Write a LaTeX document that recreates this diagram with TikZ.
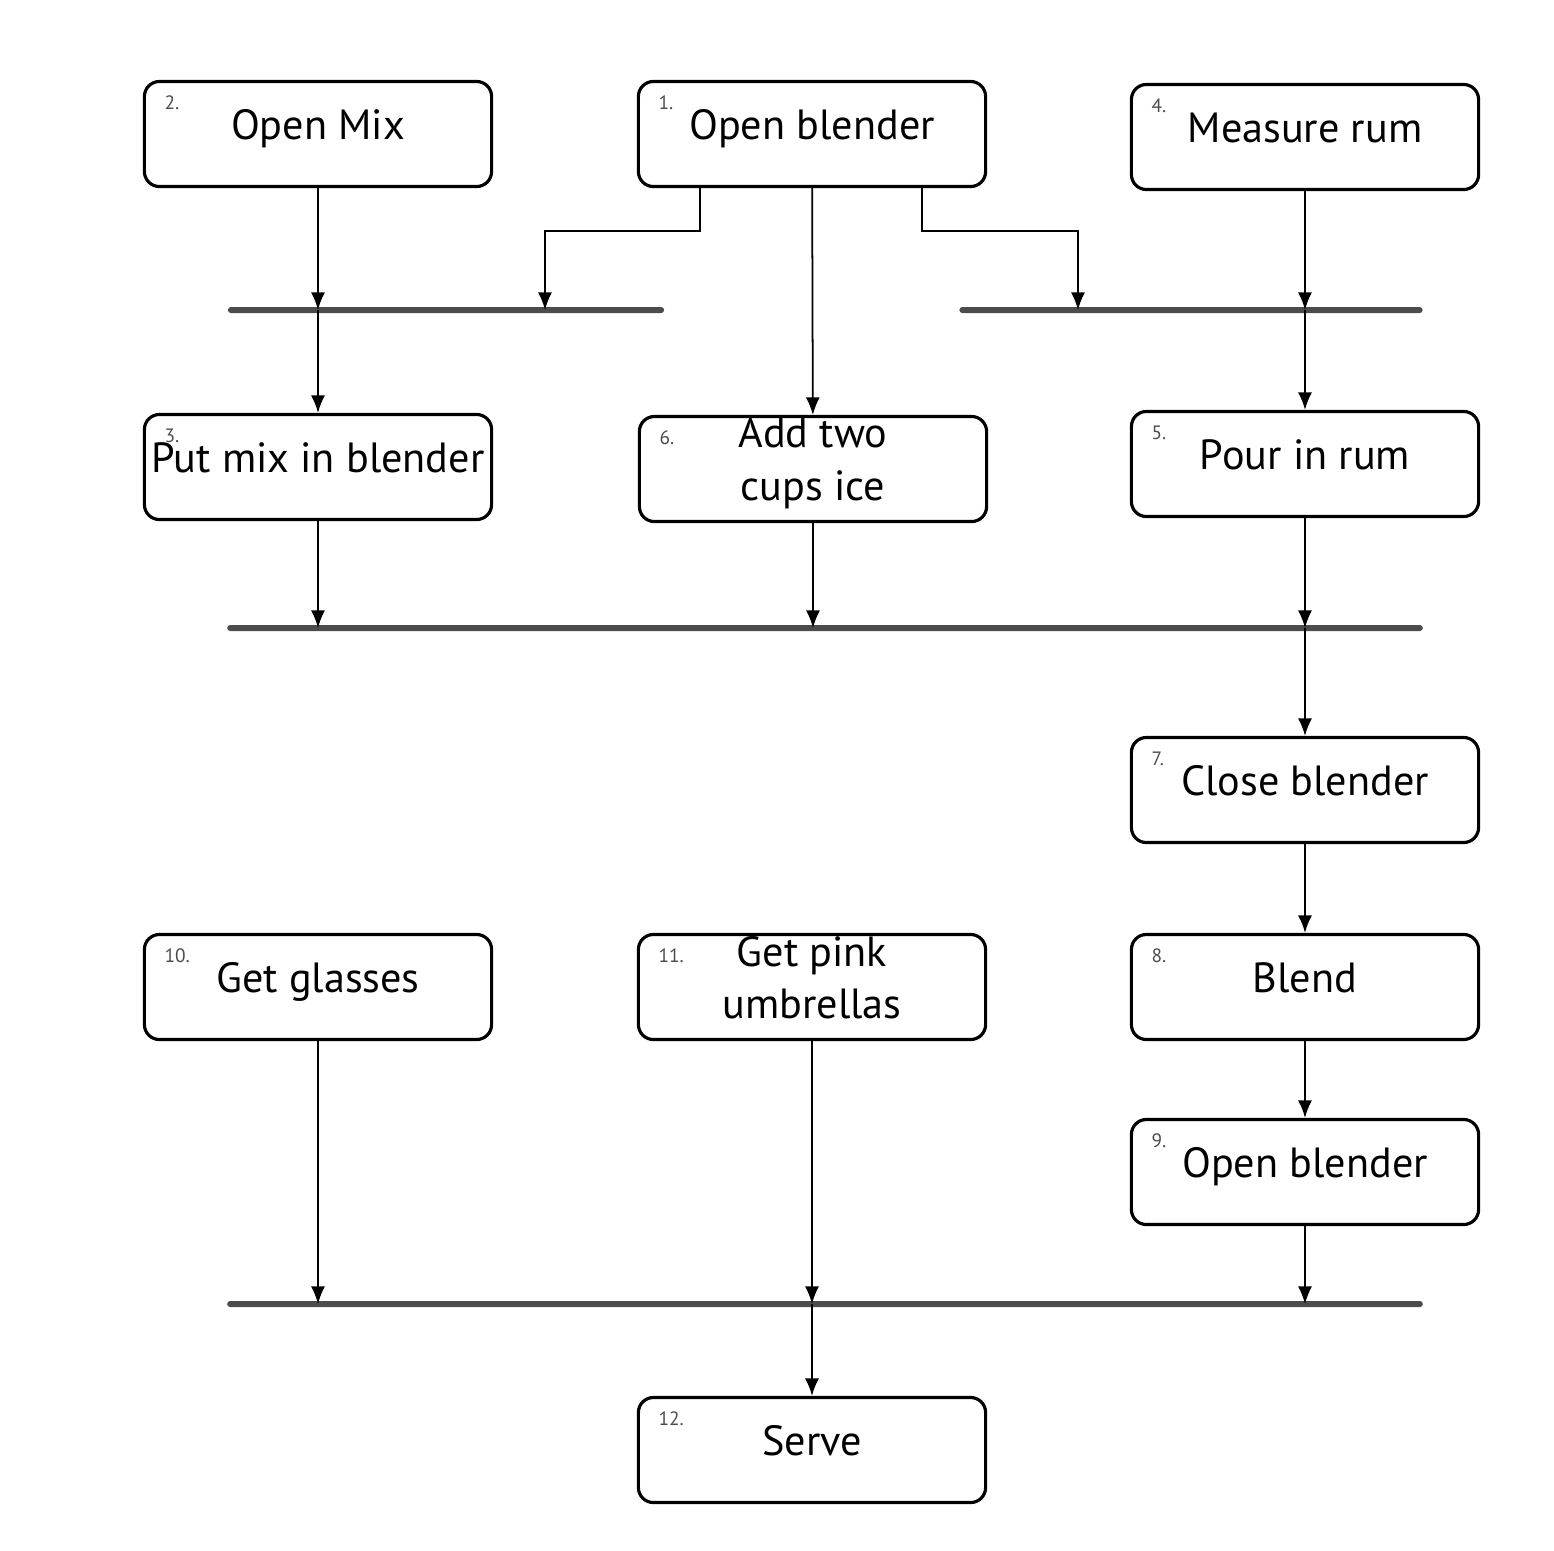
\documentclass[tikz,border=0pt]{standalone}
\usepackage{fontspec}
\setmainfont{PT Sans}
\usetikzlibrary{arrows.meta}

\begin{document}
\begin{tikzpicture}[x=0.01cm,y=-0.01cm,
			>={Latex[length=5pt,width=4pt]},
			act/.style={rectangle, draw, rounded corners=0.15cm, line width=0.9pt, minimum width=3.47cm, minimum height=1.05cm, inner xsep=1pt, inner ysep=0pt, text depth=5.5pt, font=\fontsize{12}{15}\selectfont, align=center},
			numlab/.style={anchor=west, font=\fontsize{5.5}{6}\selectfont, text=black!70, inner sep=0pt},
			bar/.style={rectangle, fill=black!70, rounded corners=0.03cm, minimum height=0.06cm, inner sep=0pt},
			flow/.style={->, line width=0.5pt}
				]
			\useasboundingbox (0,0) rectangle (1554,1550);
			% activities
			\node[act] at (318,134) (a2) {Open Mix};
			\node[act] at (812,134) (a1) {Open blender};
			\node[act] at (1305,137) (a4) {Measure rum};
			\node[act] at (318,467) (a3) {Put mix in blender};
			\node[act] at (813,469) (a6) {Add two\\cups ice};
			\node[act] at (1305,464) (a5) {Pour in rum};
			\node[act] at (1305,790) (a7) {Close blender};
			\node[act] at (318,987) (a10) {Get glasses};
			\node[act] at (812,987) (a11) {Get pink\\umbrellas};
			\node[act] at (1305,987) (a8) {Blend};
			\node[act] at (1305,1172) (a9) {Open blender};
			\node[act] at (812,1450) (a12) {Serve};

			\foreach \i in {1,...,12} {
				\node[numlab] at ([xshift=0.21cm,yshift=-0.23cm]a\i.north west) {\i.};
			}

			% sync bars
			\node[bar, minimum width=4.36cm] at (446,310) (j1) {};
			\node[bar, minimum width=4.63cm] at (1191,310) (j2) {};
			\node[bar, minimum width=11.95cm] at (825,628) (j3) {};
			\node[bar, minimum width=11.95cm] at (825,1304) (j4) {};

			\coordinate (l1) at (700,231);
			\coordinate (r1) at (922,231);

			\draw[flow] (a2) -- (a2 |- j1);
			\draw[flow] (a2 |- j1) -- (a3);
			\draw[flow] (a1.south -| l1) -- (l1) -| (545,310);
			\draw[flow] (a1.south -| r1) -- (r1) -| (1078,310);
			\draw[flow] (a1) -- (a6);
			\draw[flow] (a4) -- (a4 |- j2);
			\draw[flow] (a4 |- j2) -- (a5);

			\draw[flow] (a3) -- (a3 |- j3);
			\draw[flow] (a6) -- (a6 |- j3);
			\draw[flow] (a5) -- (a5 |- j3);
			\draw[flow] (a7 |- j3) -- (a7);
			\draw[flow] (a7) -- (a8);
			\draw[flow] (a8) -- (a9);

			\draw[flow] (a10) -- (a10 |- j4);
			\draw[flow] (a11) -- (a11 |- j4);
			\draw[flow] (a9) -- (a9 |- j4);
			\draw[flow] (a12 |- j4) -- (a12);
	\end{tikzpicture}
\end{document}
